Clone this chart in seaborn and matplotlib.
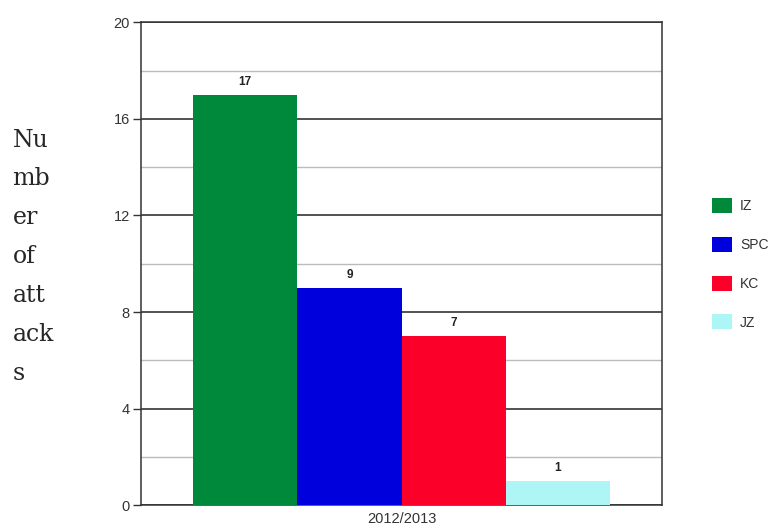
import pandas as pd
import numpy as np
import seaborn as sns
import matplotlib.pyplot as plt

# chart values
season = ["2012/2013"]
groups = ["IZ", "SPC", "KC", "JZ"]
attacks = [17, 9, 7, 1]
colors = ["#00893A", "#0000DD", "#FB0028", "#AEF6F6"]

df = pd.DataFrame({"season": season * len(groups), "group": groups, "attacks": attacks})

sns.set_style("white")
plt.rcParams["font.family"] = ["Liberation Sans", "DejaVu Sans"]

fig = plt.figure(figsize=(7.79, 5.29), dpi=100)
ax = fig.add_axes([0.181, 0.045, 0.669, 0.913])

sns.barplot(
    data=df,
    x="season",
    y="attacks",
    hue="group",
    hue_order=groups,
    palette=dict(zip(groups, colors)),
    saturation=1,
    width=0.8,
    linewidth=0,
    ax=ax,
    legend=True,
    zorder=3,
)

for container in ax.containers:
    ax.bar_label(container, padding=5, fontsize=8.5, fontweight="bold", color="#222222")

ax.set_ylim(0, 20)
ax.set_yticks(np.arange(0, 21, 4))
ax.set_yticks(np.arange(2, 20, 4), minor=True)
ax.grid(axis="y", which="major", color="#222222", linewidth=1.1, zorder=0)
ax.grid(axis="y", which="minor", color="#bbbbbb", linewidth=1.0, zorder=0)
ax.set_axisbelow(True)
ax.tick_params(axis="y", which="major", left=True, length=6, width=1, color="#333333",
               labelsize=10.5, labelcolor="#333333", pad=2)
ax.tick_params(axis="y", which="minor", left=False)
ax.tick_params(axis="x", bottom=True, length=0, labelsize=10.5, labelcolor="#333333", pad=5)
for side in ["left", "right", "top", "bottom"]:
    ax.spines[side].set_visible(True)
    ax.spines[side].set_color("#333333")
    ax.spines[side].set_linewidth(1.1)
ax.set_xlabel("")
ax.set_ylabel("")

ax.legend(
    loc="center left",
    bbox_to_anchor=(1.072, 0.50),
    frameon=False,
    fontsize=10,
    labelspacing=1.7,
    handlelength=1.4,
    handleheight=1.3,
    handletextpad=0.6,
    labelcolor="#333333",
)

fig.text(0.016, 0.757, "Nu\nmb\ner\nof\natt\nack\ns", fontsize=17,
         family=["DejaVu Serif", "Liberation Serif"], va="top", ha="left",
         linespacing=1.88)

fig.savefig("out.png", dpi=100)
